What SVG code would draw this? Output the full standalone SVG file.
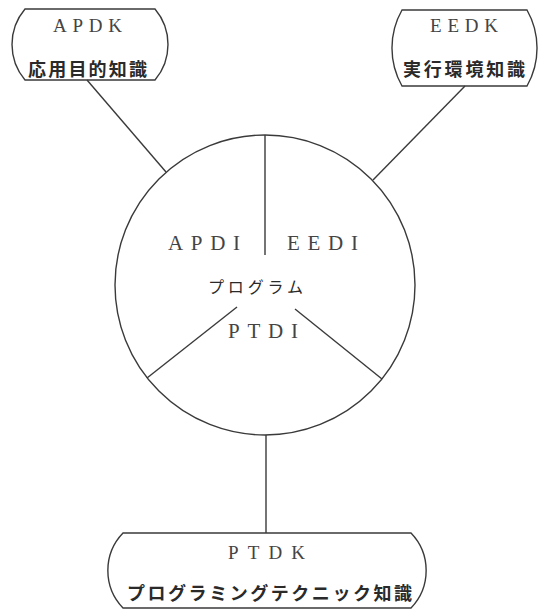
<svg xmlns="http://www.w3.org/2000/svg" width="548" height="610" viewBox="0 0 548 610">
<style>
.shape{fill:none;stroke:#3a3a3a;stroke-width:1.4}
.lat{font-family:"Liberation Serif","DejaVu Serif",serif;fill:#444}
.jp{font-family:"Noto Sans CJK JP",sans-serif;fill:#2a2a2a}
</style>
<rect width="548" height="610" fill="#fff"/>
<g id="connectors" class="shape">
<line x1="87" y1="80" x2="166" y2="172"/>
<line x1="465" y1="86" x2="373" y2="180"/>
<line x1="266" y1="435" x2="266" y2="533"/>
</g>
<g id="APDK">
<path class="shape" d="M25,9 H155 A55,55 0 0 1 155,80 H25 A55,55 0 0 1 25,9 Z"/>
<text class="lat" x="53" y="32" font-size="19" textLength="69" lengthAdjust="spacing">APDK</text>
<text class="jp" x="28" y="76" font-size="18" font-weight="bold" textLength="119" lengthAdjust="spacing">応用目的知識</text>
</g>
<g id="EEDK">
<path class="shape" d="M402,10 H527 A77,77 0 0 1 527,86 H402 A77,77 0 0 1 402,10 Z"/>
<text class="lat" x="430" y="32" font-size="19" textLength="68" lengthAdjust="spacing">EEDK</text>
<text class="jp" x="403" y="76" font-size="18" font-weight="bold" textLength="122" lengthAdjust="spacing">実行環境知識</text>
</g>
<g id="program">
<circle class="shape" cx="265" cy="285" r="150"/>
<line class="shape" x1="265" y1="135" x2="265" y2="255"/>
<line class="shape" x1="237" y1="307" x2="147" y2="378"/>
<line class="shape" x1="295" y1="309" x2="382" y2="379"/>
<text class="lat" x="168" y="250" font-size="21" textLength="72" lengthAdjust="spacing">APDI</text>
<text class="lat" x="287" y="250" font-size="21" textLength="71" lengthAdjust="spacing">EEDI</text>
<text class="jp" x="208" y="293" font-size="16" textLength="95" lengthAdjust="spacing">プログラム</text>
<text class="lat" x="228" y="338" font-size="21" textLength="70" lengthAdjust="spacing">PTDI</text>
</g>
<g id="PTDK">
<path class="shape" d="M123,533 H411 A54,54 0 0 1 411,608 H123 A54,54 0 0 1 123,533 Z"/>
<text class="lat" x="228" y="559" font-size="19" textLength="77" lengthAdjust="spacing">PTDK</text>
<text class="jp" x="127" y="600" font-size="18" font-weight="bold" textLength="285" lengthAdjust="spacing">プログラミングテクニック知識</text>
</g>
</svg>
